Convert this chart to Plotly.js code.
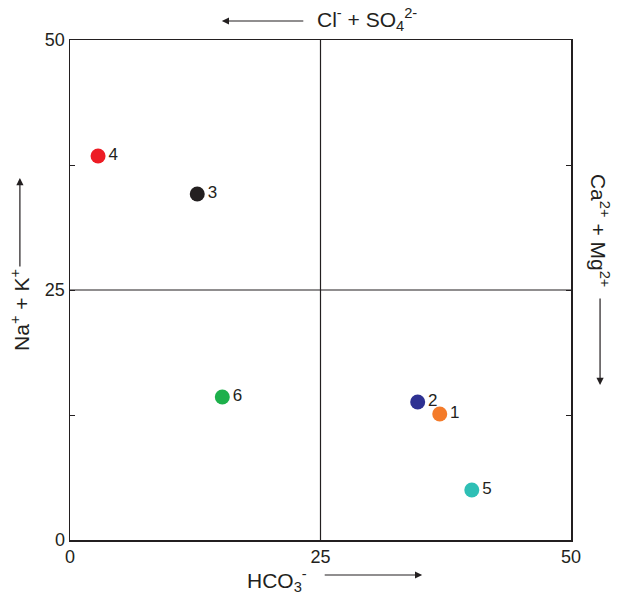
<!DOCTYPE html>
<html><head><meta charset="utf-8">
<script src="https://cdn.plot.ly/plotly-3.0.1.min.js"></script>
<style>html,body{margin:0;padding:0;background:#fff}</style>
</head><body>
<div id="chart" style="width:619px;height:598px"></div>
<script>
const sampleLabels = ['1','2','3','4','5','6'];
const hco3 = [36.9, 34.7, 12.7, 2.8, 40.1, 15.2];
const naK  = [12.6, 13.8, 34.6, 38.4, 5.0, 14.3];
const colors = ['#F47B2A','#2E3192','#231F20','#ED1C24','#2EBFB5','#1DB04B'];
const xTicks = [0, 25, 50];
const yTicks = [0, 12.5, 25, 37.5, 50];
const yTickText = ['0','','25','','50'];

const font = 'Arial, "Liberation Sans", sans-serif';
const trace = {
  x: hco3, y: naK, text: sampleLabels,
  mode: 'markers+text', type: 'scatter',
  textposition: 'middle right',
  textfont: {family: font, size: 17, color: '#231F20'},
  marker: {size: 15, color: colors},
  cliponaxis: false, hoverinfo: 'none'
};
const axisCommon = {
  range: [0, 50], showgrid: false, zeroline: false,
  showline: true, linecolor: '#231F20', linewidth: 1.5, mirror: 'allticks',
  ticks: 'inside', ticklen: 5, tickcolor: '#231F20',
  tickfont: {family: font, size: 18, color: '#231F20'}
};
const lblFont = {family: font, size: 21, color: '#231F20'};
const arrow = {text: '', xref: 'paper', yref: 'paper', showarrow: true, arrowhead: 2, arrowsize: 1.2, arrowwidth: 1.2, arrowcolor: '#231F20'};
const layout = {
  width: 619, height: 598,
  margin: {l: 70, r: 48, t: 40, b: 58},
  paper_bgcolor: '#fff', plot_bgcolor: '#fff',
  showlegend: false,
  xaxis: Object.assign({}, axisCommon, {tickvals: xTicks, ticktext: xTicks.map(String), ticklen: 0}),
  yaxis: Object.assign({}, axisCommon, {tickvals: yTicks, ticktext: yTickText}),
  shapes: [
    {type: 'line', xref: 'x', yref: 'paper', x0: 25, x1: 25, y0: 0, y1: 1, line: {color: '#231F20', width: 1.2}},
    {type: 'line', xref: 'paper', yref: 'y', x0: 0, x1: 1, y0: 25, y1: 25, line: {color: '#231F20', width: 1.2}}
  ],
  annotations: [
    {text: 'Cl<sup>-</sup> + SO<sub>4</sub><sup>2-</sup>', xref: 'paper', yref: 'paper', x: 0.592, y: 1.04, xanchor: 'center', yanchor: 'middle', showarrow: false, font: lblFont},
    Object.assign({}, arrow, {x: 0.303, y: 1.038, ax: 83, ay: 0}),
    {text: 'HCO<sub>3</sub><sup>-</sup>', xref: 'paper', yref: 'paper', x: 0.413, y: -0.08, xanchor: 'center', yanchor: 'middle', showarrow: false, font: lblFont},
    Object.assign({}, arrow, {x: 0.703, y: -0.07, ax: -99, ay: 0}),
    {text: 'Na<sup>+</sup> + K<sup>+</sup>', xref: 'paper', yref: 'paper', x: -0.1, y: 0.46, xanchor: 'center', yanchor: 'middle', textangle: -90, showarrow: false, font: lblFont},
    Object.assign({}, arrow, {x: -0.1, y: 0.724, ax: 0, ay: 90}),
    {text: 'Ca<sup>2+</sup> + Mg<sup>2+</sup>', xref: 'paper', yref: 'paper', x: 1.058, y: 0.62, xanchor: 'center', yanchor: 'middle', textangle: 90, showarrow: false, font: lblFont},
    Object.assign({}, arrow, {x: 1.058, y: 0.31, ax: 0, ay: -88})
  ]
};
Plotly.newPlot('chart', [trace], layout, {staticPlot: true, displayModeBar: false});
</script>
</body></html>
